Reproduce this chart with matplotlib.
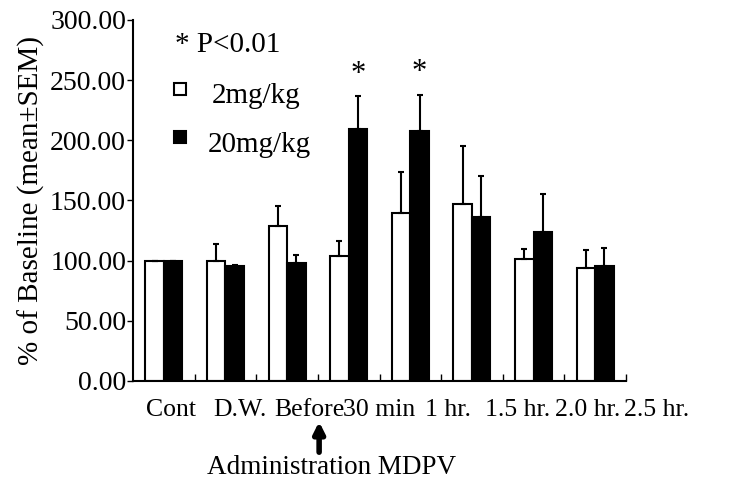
import matplotlib
matplotlib.use("Agg")
import matplotlib.pyplot as plt
import numpy as np

plt.rcParams['font.family'] = ['Liberation Serif', 'DejaVu Serif']

# data
etiquetas = ['Cont', 'D.W.', 'Before', '30 min', '1 hr.', '1.5 hr.', '2.0 hr.', '2.5 hr.']
media_2mg = [100, 100, 128.5, 104, 140, 147.5, 101, 94]
sem_2mg = [0, 14, 17, 12, 34, 48, 9, 14.5]
media_20mg = [100, 95.5, 98, 209, 207.5, 136, 123.5, 95.5]
sem_20mg = [0, 1, 7, 28, 30.5, 34, 32, 15]
significativo = [False, False, False, True, True, False, False, False]

fig = plt.figure(figsize=(7.49, 4.83), dpi=100)
ax = fig.add_axes([0.1776, 0.2112, 0.6582, 0.7474])

x = np.arange(len(etiquetas))
ancho = 0.3
err_kw = dict(ecolor='black', elinewidth=1.5, capsize=2, capthick=1.5)

ax.bar(x - ancho / 2, media_2mg, ancho, color='white', edgecolor='black', linewidth=1.5,
       yerr=[np.zeros(len(x)), sem_2mg], error_kw=err_kw, zorder=2)
ax.bar(x + ancho / 2, media_20mg, ancho, color='black', edgecolor='black', linewidth=1.5,
       yerr=[np.zeros(len(x)), sem_20mg], error_kw=err_kw, zorder=2)

for i, sig in enumerate(significativo):
    if sig:
        ax.text(x[i] + ancho / 2, media_20mg[i] + sem_20mg[i] + 6, '*',
                ha='center', va='bottom', fontsize=22)

ax.set_xlim(-0.5, len(x) - 0.5)
ax.set_ylim(0, 300)
ax.set_yticks(np.arange(0, 301, 50))
ax.set_yticklabels([f'{v:.2f}' for v in np.arange(0, 301, 50)], fontsize=20)
ax.tick_params(axis='y', direction='out', length=4, width=1, pad=1)

ax.set_xticks(np.arange(0.5, len(x), 1))
ax.set_xticklabels([])
ax.tick_params(axis='x', direction='in', length=5, width=1)

for lado in ['top', 'right']:
    ax.spines[lado].set_visible(False)
for lado in ['left', 'bottom']:
    ax.spines[lado].set_linewidth(1.5)

# category labels, spaced a little wider than the bars as in the original
for i, et in enumerate(etiquetas):
    ax.text(0.11 + 1.127 * i, -0.05, et, transform=ax.get_xaxis_transform(),
            ha='center', va='top', fontsize=18.5)

ax.set_ylabel('% of Baseline (mean\u00b1SEM)', fontsize=21, labelpad=4)

# legend drawn by hand
ax.text(0.085, 0.93, '* P<0.01', transform=ax.transAxes, fontsize=21, va='center')
ax.plot([0.095], [0.81], marker='s', ms=9, mfc='white', mec='black', mew=1.5,
        transform=ax.transAxes, clip_on=False)
ax.text(0.16, 0.79, '2mg/kg', transform=ax.transAxes, fontsize=21, va='center')
ax.plot([0.095], [0.675], marker='s', ms=9, mfc='black', mec='black', mew=1.5,
        transform=ax.transAxes, clip_on=False)
ax.text(0.152, 0.655, '20mg/kg', transform=ax.transAxes, fontsize=21, va='center')

# administration arrow
ax.annotate('', xy=(2.52, -0.105), xytext=(2.52, -0.205),
            xycoords=ax.get_xaxis_transform(),
            arrowprops=dict(arrowstyle='-|>', color='black', lw=4, mutation_scale=16))
ax.text(2.72, -0.205, 'Administration MDPV', transform=ax.get_xaxis_transform(),
        ha='center', va='top', fontsize=19.5)

fig.savefig('out.png', dpi=100)
